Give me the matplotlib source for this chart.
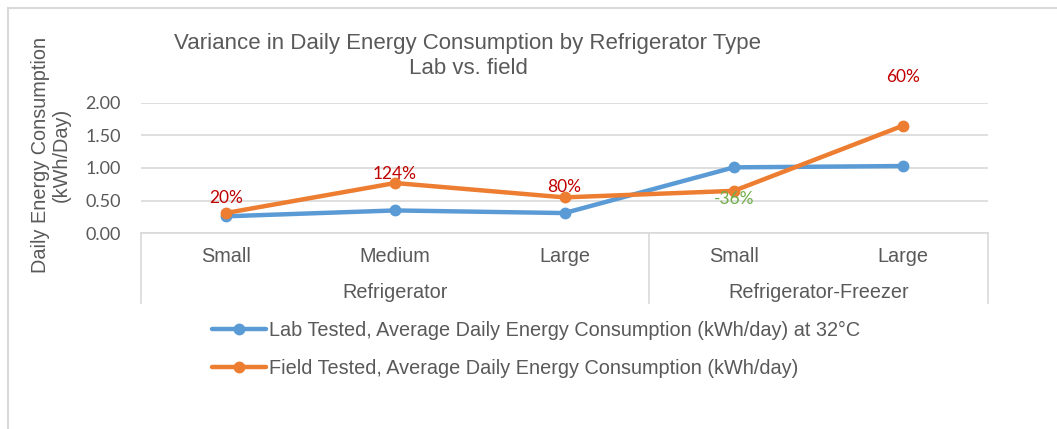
import matplotlib
matplotlib.use("Agg")
import matplotlib.pyplot as plt
from matplotlib.lines import Line2D
import matplotlib.transforms as mtransforms

# ---- data ----
categories = ["Small", "Medium", "Large", "Small", "Large"]
groups = ["Refrigerator", "Refrigerator-Freezer"]
group_sizes = [3, 2]
lab_values = [0.26, 0.35, 0.31, 1.01, 1.03]
field_values = [0.31, 0.77, 0.55, 0.65, 1.65]
pct_labels = ["20%", "124%", "80%", "-36%", "60%"]
lab_name = "Lab Tested, Average Daily Energy Consumption (kWh/day) at 32°C"
field_name = "Field Tested, Average Daily Energy Consumption (kWh/day)"
title_lines = ["Variance in Daily Energy Consumption by Refrigerator Type", "Lab vs. field"]
y_ticks = [0.0, 0.5, 1.0, 1.5, 2.0]

BLUE = "#5B9BD5"
ORANGE = "#ED7D31"
TXT = "#595959"
GRID = "#D9D9D9"
RED = "#C00000"
GREEN = "#70AD47"

W, H = 1057, 429
fig = plt.figure(figsize=(W / 100, H / 100), dpi=100)
fig.patch.set_facecolor("white")

def fx(px):
    return px / W

def fy(py):
    return 1 - py / H

# chart border (left + top)
fig.add_artist(Line2D([fx(7.5), fx(7.5)], [0, fy(8)], transform=fig.transFigure, color=GRID, lw=1.5))
fig.add_artist(Line2D([fx(7.5), 1], [fy(8), fy(8)], transform=fig.transFigure, color=GRID, lw=1.5))

left, right, top, bottom = 141, 988, 102.7, 233.3
ax = fig.add_axes([fx(left), fy(bottom), fx(right - left), (bottom - top) / H])
x = list(range(len(categories)))

ax.set_xlim(-0.5, len(categories) - 0.5)
ax.set_ylim(0, 2.0)
ax.set_yticks(y_ticks)
ax.set_yticklabels([f"{v:.2f}" for v in y_ticks], fontfamily="Lato", fontsize=13, color=TXT)
ax.tick_params(axis="y", length=0, pad=14.4)
ax.set_xticks([])
ax.grid(axis="y", color=GRID, lw=1.2)
ax.set_axisbelow(True)
for s in ["top", "right", "left"]:
    ax.spines[s].set_visible(False)
ax.spines["bottom"].set_color(GRID)
ax.spines["bottom"].set_linewidth(1.2)

ax.plot(x, lab_values, color=BLUE, lw=3.2, marker="o", ms=7.5, label=lab_name,
        solid_capstyle="round", clip_on=False, zorder=3)
ax.plot(x, field_values, color=ORANGE, lw=3.2, marker="o", ms=7.5, label=field_name,
        solid_capstyle="round", clip_on=False, zorder=4)

# percentage labels
offsets = [15, 9, 10, -8, 49]
for xi, v, lab, off in zip(x, field_values, pct_labels, offsets):
    col = GREEN if lab.startswith("-") else RED
    ax.annotate(lab, (xi, v), xytext=(0, off), textcoords="offset pixels",
                ha="center", va="center", fontsize=12.5, fontfamily="Lato", color=col,
                annotation_clip=False, zorder=5)

# multi-level category axis
trans = mtransforms.blended_transform_factory(ax.transData, fig.transFigure)
for xi, c in zip(x, categories):
    ax.text(xi, fy(257), c, transform=trans, ha="center", va="center",
            fontsize=14.3, fontfamily="Liberation Sans", color=TXT)
start = -0.5
bounds = [start]
for g, n in zip(groups, group_sizes):
    end = start + n
    ax.text((start + end) / 2, fy(292), g, transform=trans, ha="center", va="center",
            fontsize=14.3, fontfamily="Liberation Sans", color=TXT)
    bounds.append(end)
    start = end
for b in bounds:
    ax.add_line(Line2D([b, b], [fy(bottom), fy(303)], transform=trans, color=GRID, lw=1.2, clip_on=False))

# title
fig.text(fx(468), fy(44), title_lines[0], ha="center", va="center", fontsize=16,
         fontfamily="Liberation Sans", color=TXT)
fig.text(fx(468), fy(68), title_lines[1], ha="center", va="center", fontsize=16,
         fontfamily="Liberation Sans", color=TXT)

# y label
fig.text(fx(51), fy(155), "Daily Energy Consumption\n(kWh/Day)", rotation=90,
         ha="center", va="center", fontsize=14.3, fontfamily="Liberation Sans",
         color=TXT, multialignment="center", linespacing=1.15)

# legend
handles, labels = ax.get_legend_handles_labels()
leg = fig.legend(handles, labels, loc="center left", bbox_to_anchor=(fx(212), fy(349.5)),
                 frameon=False, prop={"family": "Liberation Sans", "size": 14.3},
                 handlelength=2.7, handletextpad=0.15, labelspacing=0.95,
                 borderpad=0, borderaxespad=0)
for t in leg.get_texts():
    t.set_color(TXT)

fig.savefig("out.png", dpi=100, facecolor="white")
